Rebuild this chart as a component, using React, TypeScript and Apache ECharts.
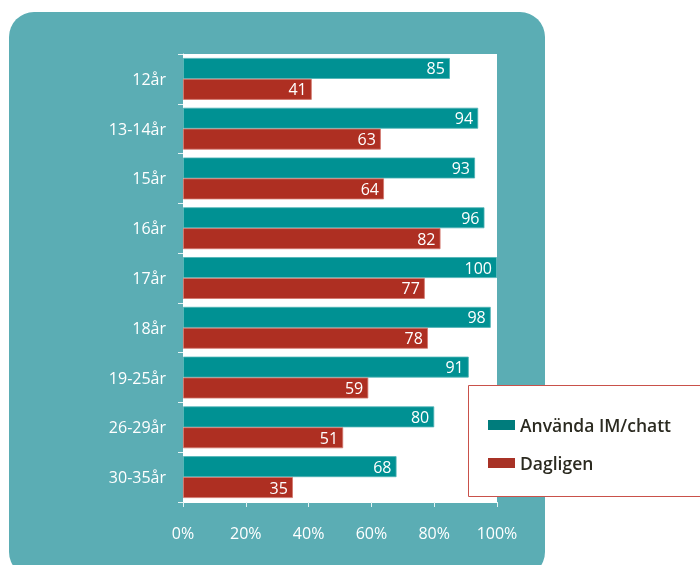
import React, { useEffect, useRef } from "react";
import * as echarts from "echarts";

const categories = ["12år", "13-14år", "15år", "16år", "17år", "18år", "19-25år", "26-29år", "30-35år"];
const imChatt = [85, 94, 93, 96, 100, 98, 91, 80, 68];
const dagligen = [41, 63, 64, 82, 77, 78, 59, 51, 35];
const seriesNames = ["Använda IM/chatt", "Dagligen"];

const FONT = "'Open Sans', 'Noto Sans', sans-serif";

export default function App() {
  const ref = useRef<HTMLDivElement>(null);
  useEffect(() => {
    if (!ref.current) return;
    const chart = echarts.init(ref.current, undefined, { renderer: "svg" });
    const label = {
      show: true,
      position: "insideRight",
      distance: 5,
      color: "#ffffff",
      fontSize: 16,
      fontFamily: FONT,
    };
    chart.setOption({
      animation: false,
      graphic: [
        {
          type: "rect",
          z: -10,
          silent: true,
          shape: { x: 9, y: 12, width: 536, height: 565, r: 25 },
          style: { fill: "#5badb4" },
        },
        {
          type: "rect",
          z: 50,
          silent: true,
          shape: { x: 468.5, y: 385.5, width: 240, height: 111 },
          style: { fill: "#ffffff", stroke: "#c9514a", lineWidth: 1 },
        },
      ],
      legend: {
        z: 60,
        orient: "vertical",
        left: 483,
        top: 411,
        itemWidth: 27,
        itemHeight: 10,
        itemGap: 20,
        icon: "rect",
        itemStyle: { borderWidth: 0 },
        textStyle: { color: "#2b2a20", fontSize: 17.5, fontWeight: 600, fontFamily: FONT, padding: [0, 0, 0, 0] },
        data: [
          { name: seriesNames[0], itemStyle: { color: "#007c7c", borderWidth: 0 } },
          { name: seriesNames[1], itemStyle: { color: "#a83226", borderWidth: 0 } },
        ],
      },
      grid: {
        left: 183,
        right: 203,
        top: 54,
        bottom: 63,
        show: true,
        backgroundColor: "#ffffff",
        borderWidth: 0,
      },
      xAxis: {
        type: "value",
        min: 0,
        max: 100,
        interval: 20,
        axisLine: { show: true, lineStyle: { color: "#ffffff" } },
        axisTick: { show: true, length: 5, lineStyle: { color: "#e6f3f4" } },
        splitLine: { show: false },
        axisLabel: {
          formatter: "{value}%",
          color: "#ffffff",
          fontSize: 16,
          fontFamily: FONT,
          margin: 23,
        },
      },
      yAxis: {
        type: "category",
        data: categories,
        inverse: true,
        axisLine: { show: true, lineStyle: { color: "#ffffff" } },
        axisTick: { show: true, length: 5, lineStyle: { color: "#e6f3f4" } },
        axisLabel: { color: "#ffffff", fontSize: 16, fontFamily: FONT, margin: 17 },
      },
      series: [
        {
          name: seriesNames[0],
          type: "bar",
          data: imChatt,
          barGap: "0%",
          barCategoryGap: "16%",
          itemStyle: { color: "#009193", borderColor: "#4fb3b5", borderWidth: 0.8 },
          label,
        },
        {
          name: seriesNames[1],
          type: "bar",
          data: dagligen,
          itemStyle: { color: "#ae2f22", borderColor: "#d2766c", borderWidth: 0.8 },
          label,
        },
      ],
    });
    return () => chart.dispose();
  }, []);
  return <div ref={ref} style={{ position: "fixed", left: 0, top: 0, width: 700, height: 565 }} />;
}
